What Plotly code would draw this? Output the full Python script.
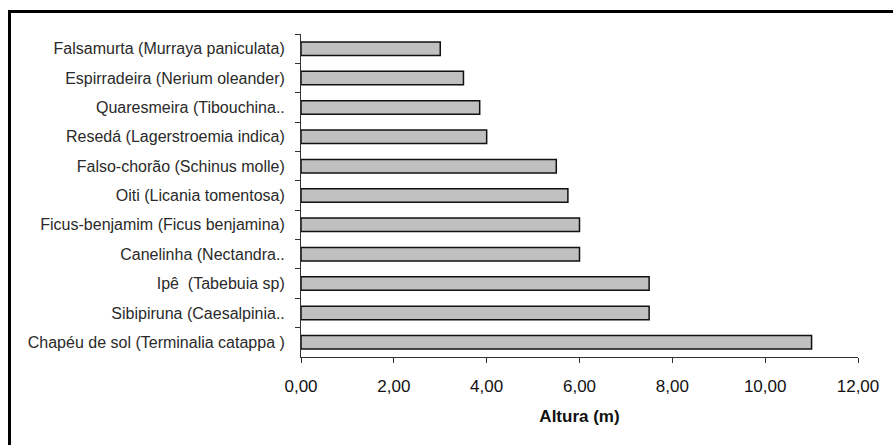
import plotly.graph_objects as go

categories = [
    "Falsamurta (Murraya paniculata)",
    "Espirradeira (Nerium oleander)",
    "Quaresmeira (Tibouchina..",
    "Resedá (Lagerstroemia indica)",
    "Falso-chorão (Schinus molle)",
    "Oiti (Licania tomentosa)",
    "Ficus-benjamim (Ficus benjamina)",
    "Canelinha (Nectandra..",
    "Ipê  (Tabebuia sp)",
    "Sibipiruna (Caesalpinia..",
    "Chapéu de sol (Terminalia catappa )",
]
heights = [3.0, 3.5, 3.85, 4.0, 5.5, 5.75, 6.0, 6.0, 7.5, 7.5, 11.0]
x_ticks = [0, 2, 4, 6, 8, 10, 12]

fig = go.Figure(go.Bar(
    x=heights, y=categories, orientation="h",
    marker=dict(color="#c0c0c0", line=dict(color="#111111", width=1.5)),
    width=0.46,
))

L, R, T, B = 301, 858, 34, 357
W, H = 893, 445
pw, ph = R - L, B - T

def px_x(x):
    return (x - L) / pw

def px_y(y):
    return (B - y) / ph

fig.update_layout(
    width=W, height=H,
    margin=dict(l=L, r=W - R, t=T, b=H - B, pad=0),
    paper_bgcolor="white", plot_bgcolor="white",
    separators=",.",
    showlegend=False,
    font=dict(family="Liberation Sans, Arial, sans-serif", color="#222222"),
    xaxis=dict(
        range=[0, 12], tickvals=x_ticks, tickformat=".2f",
        showgrid=False, zeroline=False,
        showline=True, linecolor="#333333", linewidth=1,
        ticks="outside", ticklen=5, tickcolor="#333333",
        tickfont=dict(size=17, color="#111111"),
        ticklabelstandoff=9,
        title=dict(text="<b>Altura (m)</b>", font=dict(size=17, color="#111111"), standoff=14),
        fixedrange=True,
    ),
    yaxis=dict(
        autorange="reversed", showgrid=False,
        showline=True, linecolor="#333333", linewidth=1,
        ticks="outside", ticklen=5, tickcolor="#333333", tickson="boundaries",
        tickfont=dict(size=16, color="#2a2a2a"),
        ticklabelstandoff=12,
        fixedrange=True,
    ),
    shapes=[
        dict(type="line", xref="paper", yref="paper",
             x0=px_x(9.5), x1=px_x(9.5), y0=px_y(10), y1=px_y(450),
             line=dict(color="black", width=3)),
        dict(type="line", xref="paper", yref="paper",
             x0=px_x(8), x1=px_x(900), y0=px_y(11.5), y1=px_y(11.5),
             line=dict(color="black", width=3)),
    ],
)

fig.write_html("out.html")
